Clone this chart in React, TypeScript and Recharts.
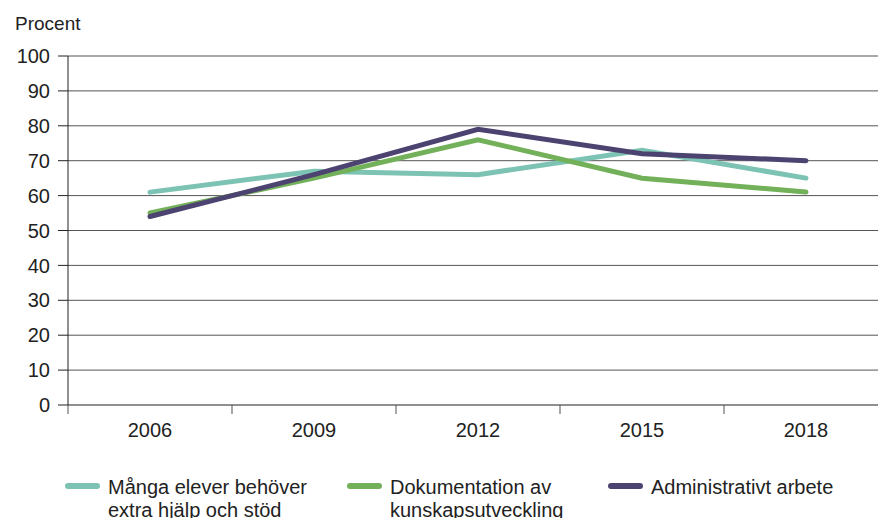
import React from "react";
import {CartesianGrid, Line, LineChart, XAxis, YAxis} from "recharts";

const years = ["2006", "2009", "2012", "2015", "2018"];
const mangaElever = [61, 67, 66, 73, 65];
const dokumentation = [55, 65, 76, 65, 61];
const administrativt = [54, 66, 79, 72, 70];
const yTicks = [0, 10, 20, 30, 40, 50, 60, 70, 80, 90, 100];

const data = years.map((year, i) => ({
    year,
    manga: mangaElever[i],
    dok: dokumentation[i],
    adm: administrativt[i],
}));

const FONT = "'Liberation Sans', Arial, sans-serif";
const BAND = 164;

const series = [
    {key: "manga", color: "#7dc3b3", label: ["Många elever behöver", "extra hjälp och stöd"], x: 65},
    {key: "dok", color: "#72b159", label: ["Dokumentation av", "kunskapsutveckling"], x: 347},
    {key: "adm", color: "#4d4370", label: ["Administrativt arbete"], x: 608},
];

const YearTick = ({x, y, payload}) => (
    <g>
        <line x1={x - BAND / 2} x2={x - BAND / 2} y1={y - 8} y2={y + 1} stroke="#555"/>
        <text x={x} y={y + 24} textAnchor="middle" fill="#222" fontSize={20} fontFamily={FONT}>
            {payload.value}
        </text>
    </g>
);

export default function App() {
    return (
        <div style={{position: "fixed", left: 0, top: 0, width: 878, height: 518, overflow: "hidden", background: "#fff"}}>
            <div style={{position: "absolute", left: 15, top: 13, fontSize: 19, fontFamily: FONT, color: "#222"}}>
                Procent
            </div>
            <LineChart width={890} height={518} data={data} margin={{top: 56, right: 2, bottom: 0, left: 0}}>
                <CartesianGrid vertical={false} stroke="#555"/>
                <XAxis dataKey="year" scale="band" tickLine={false} axisLine={{stroke: "#777"}}
                       tick={YearTick} height={113} interval={0}/>
                <YAxis domain={[0, 100]} ticks={yTicks} width={68} tickSize={10} tickMargin={8} interval={0}
                       axisLine={{stroke: "#222"}} tickLine={{stroke: "#222"}}
                       tick={{fill: "#222", fontSize: 20, fontFamily: FONT}}/>
                {series.map((s) => (
                    <Line key={s.key} type="linear" dataKey={s.key} stroke={s.color} strokeWidth={5}
                          strokeLinecap="round" dot={false} isAnimationActive={false}/>
                ))}
            </LineChart>
            {series.map((s) => (
                <div key={s.key} style={{position: "absolute", left: s.x, top: 476, display: "flex", fontFamily: FONT, fontSize: 20, color: "#222"}}>
                    <div style={{width: 35, height: 6, borderRadius: 3, background: s.color, marginTop: 7, marginRight: 8}}/>
                    <div style={{lineHeight: "23px"}}>
                        {s.label.map((l) => <div key={l}>{l}</div>)}
                    </div>
                </div>
            ))}
        </div>
    );
}
